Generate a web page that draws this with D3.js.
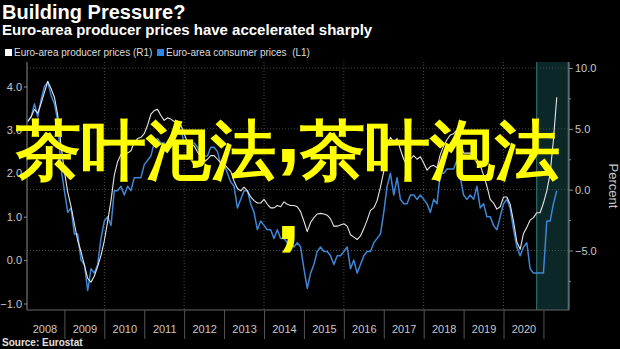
<!DOCTYPE html>
<html><head><meta charset="utf-8">
<script src="https://cdn.jsdelivr.net/npm/d3@7"></script>
<style>
html,body{margin:0;padding:0;background:#000;}
svg{display:block;}
text{font-family:"Liberation Sans",Arial,sans-serif;}
</style></head><body>
<svg id="chart" width="620" height="349"></svg>
<script>
// ---------- data ----------
const titleText = "Building Pressure?";
const subtitleText = "Euro-area producer prices have accelerated sharply";
const seriesNames = ["Euro-area producer prices (R1)", "Euro-area consumer prices  (L1)"];
const sourceText = "Source: Eurostat";
const axisTitleRight = "Percent";
const startYear = 2008;
const yearLabels = [2008, 2009, 2010, 2011, 2012, 2013, 2014, 2015, 2016, 2017, 2018, 2019, 2020];
const yearSeparators = [2009, 2010, 2011, 2012, 2013, 2014, 2015, 2016, 2017, 2018, 2019, 2020, 2021];
const gridYears = [2010, 2012, 2014, 2016, 2018, 2020];
const leftTicks = [-1, 0, 1, 2, 3, 4];
const rightTicks = [-5, 0, 5, 10];
const rightMinorTicks = [-7.5, -2.5, 2.5, 7.5];
const highlightRange = [2020.83, 2021.62];
const overlayMain = ["茶叶泡法", ",", "茶叶泡法"];
const overlayExtra = ",";

// Producer prices, % YoY, monthly Jan 2008 .. Apr 2021 (right axis)
const ppiValues = [
  5.6, 6.0, 6.6, 6.3, 7.1, 8.0, 8.9, 8.3, 7.6, 6.1, 3.6, 1.5,
  -0.2, -1.4, -2.8, -4.2, -5.1, -6.2, -7.3, -7.6, -7.1, -6.3, -5.4, -4.2,
  -2.6, -0.9, 1.2, 2.3, 2.9, 3.0, 3.0, 3.2, 3.9, 4.2, 4.3, 4.6,
  5.3, 6.2, 6.5, 6.6, 6.1, 5.7, 5.9, 5.8, 5.6, 5.5, 5.3, 4.6,
  3.9, 3.8, 3.6, 3.1, 2.7, 2.3, 2.5, 2.8, 2.8, 2.5, 2.2, 2.1,
  1.8, 1.5, 0.7, 0.1, -0.1, 0.2, -0.1, -0.6, -0.9, -1.1, -1.1, -0.8,
  -1.2, -1.5, -1.5, -1.3, -1.4, -1.0, -1.2, -1.3, -1.3, -1.4, -1.8, -2.6,
  -3.45, -2.7, -2.3, -2.0, -1.95, -2.0, -2.1, -2.4, -3.0, -3.0, -2.9, -2.8,
  -3.0, -3.7, -3.9, -4.1, -3.8, -3.2, -2.5, -1.7, -1.5, -0.9, 0.2, 1.5,
  3.5, 4.3, 3.9, 4.2, 3.3, 2.5, 2.0, 2.5, 2.8, 2.5, 2.7, 2.2,
  1.6, 1.9, 2.0, 1.8, 2.9, 3.6, 4.1, 4.5, 4.6, 4.9, 4.0, 3.0,
  3.0, 3.0, 2.9, 2.5, 2.0, 1.2, 0.3, -0.8, -1.1, -1.6, -1.4, -0.6,
  -0.6, -1.2, -2.6, -4.3, -4.9, -3.6, -3.1, -2.5, -2.3, -1.9, -1.9, -1.1,
  -0.1, 1.3, 4.1, 7.6
];
// Consumer prices, % YoY, monthly Jan 2008 .. Apr 2021 (left axis)
const hicpValues = [
  3.2, 3.3, 3.6, 3.3, 3.7, 4.0, 4.1, 3.8, 3.6, 3.2, 2.1, 1.6,
  1.1, 1.2, 0.6, 0.6, 0.0, -0.1, -0.7, -0.2, -0.3, -0.1, 0.5, 0.9,
  1.0, 0.8, 1.6, 1.6, 1.7, 1.5, 1.7, 1.6, 1.9, 1.9, 1.9, 2.2,
  2.3, 2.4, 2.7, 2.8, 2.7, 2.7, 2.6, 2.6, 3.0, 3.0, 3.0, 2.7,
  2.7, 2.7, 2.7, 2.6, 2.4, 2.4, 2.4, 2.6, 2.6, 2.5, 2.2, 2.2,
  2.0, 1.8, 1.7, 1.2, 1.4, 1.6, 1.6, 1.3, 1.1, 0.7, 0.9, 0.8,
  0.7, 0.7, 0.5, 0.7, 0.5, 0.5, 0.4, 0.4, 0.3, 0.4, 0.3, -0.2,
  -0.65, -0.3, -0.1, 0.2, 0.3, 0.2, 0.2, 0.1, -0.1, 0.1, 0.1, 0.2,
  0.3, -0.2, 0.0, -0.3, -0.1, 0.1, 0.2, 0.2, 0.4, 0.5, 0.6, 1.1,
  1.7, 2.0, 1.5, 1.9, 1.4, 1.3, 1.3, 1.5, 1.5, 1.4, 1.5, 1.4,
  1.3, 1.1, 1.4, 1.3, 2.0, 2.0, 2.1, 2.1, 2.1, 2.3, 1.9, 1.5,
  1.4, 1.5, 1.4, 1.7, 1.2, 1.3, 1.0, 1.0, 0.8, 0.7, 1.0, 1.3,
  1.4, 1.2, 0.7, 0.3, 0.1, 0.3, 0.4, -0.2, -0.3, -0.3, -0.3, -0.3,
  0.9, 0.9, 1.3, 1.6
];

// ---------- layout ----------
const W = 620, H = 349;
const plot = {left: 27, right: 569, top: 62, bottom: 310};
const colors = {white: "#e6e6e6", blue: "#3f86d6", legendBlue: "#2d87e6", grid: "#4a4a4a",
  axis: "#8a8a8a", tick: "#c8c8c8", hl: "#0b2727", hlEdge: "#2f6a67", yellow: "#ffff00"};

const svg = d3.select("#chart");
svg.append("rect").attr("width", W).attr("height", H).attr("fill", "#000");

const monthTime = i => startYear + Math.floor(i / 12) + ((i % 12) + 1) / 12;
const ppi = ppiValues.map((v, i) => ({t: monthTime(i), v}));
const hicp = hicpValues.map((v, i) => ({t: monthTime(i), v}));

const x = d3.scaleLinear().domain([2008.063, 2021.64]).range([plot.left, plot.right]);
const yL = d3.scaleLinear().domain([-1, 4]).range([303.5, 86.5]);
const yR = d3.scaleLinear().domain([-5, 10]).range([250.5, 68]);

// highlight band
svg.append("rect")
  .attr("x", x(highlightRange[0])).attr("y", plot.top)
  .attr("width", x(highlightRange[1]) - x(highlightRange[0]))
  .attr("height", plot.bottom - plot.top)
  .attr("fill", colors.hl);
highlightRange.forEach(t => svg.append("line")
  .attr("x1", x(t)).attr("x2", x(t)).attr("y1", plot.top).attr("y2", plot.bottom)
  .attr("stroke", colors.hlEdge).attr("stroke-width", 1.2));

// grid
const grid = svg.append("g").attr("stroke", colors.grid).attr("stroke-dasharray", "1,2");
grid.selectAll("line.h").data(rightTicks).join("line")
  .attr("x1", plot.left).attr("x2", plot.right)
  .attr("y1", d => yR(d)).attr("y2", d => yR(d));
grid.selectAll("line.v").data(gridYears).join("line")
  .attr("x1", d => x(d)).attr("x2", d => x(d))
  .attr("y1", plot.top).attr("y2", plot.bottom);

// lines
svg.append("path").datum(hicp)
  .attr("fill", "none").attr("stroke", colors.blue).attr("stroke-width", 1.5)
  .attr("stroke-linejoin", "round")
  .attr("d", d3.line().x(d => x(d.t)).y(d => yL(d.v)));
svg.append("path").datum(ppi)
  .attr("fill", "none").attr("stroke", colors.white).attr("stroke-width", 1.1)
  .attr("stroke-linejoin", "round")
  .attr("d", d3.line().x(d => x(d.t)).y(d => yR(d.v)));

// axes lines
svg.append("line").attr("x1", plot.left).attr("x2", plot.left).attr("y1", plot.top).attr("y2", plot.bottom)
  .attr("stroke", colors.axis);
svg.append("line").attr("x1", plot.right).attr("x2", plot.right).attr("y1", plot.top).attr("y2", plot.bottom)
  .attr("stroke", colors.axis);
svg.append("line").attr("x1", plot.left).attr("x2", plot.right).attr("y1", plot.bottom).attr("y2", plot.bottom)
  .attr("stroke", "#666");

function styleAxis(g) {
  g.select(".domain").remove();
  g.selectAll(".tick line").attr("stroke", colors.axis);
  g.selectAll(".tick text").attr("fill", colors.tick).attr("font-size", 11)
    .attr("font-family", "Liberation Sans, Arial, sans-serif");
}

svg.append("g").attr("transform", `translate(${plot.left},0)`)
  .call(d3.axisLeft(yL).tickValues(leftTicks).tickFormat(d3.format(".1f")).tickSize(3).tickPadding(2))
  .call(styleAxis);
svg.append("g").attr("transform", `translate(${plot.right},0)`)
  .call(d3.axisRight(yR).tickValues(rightTicks).tickFormat(d3.format(".1f")).tickSize(4).tickPadding(2))
  .call(styleAxis);
svg.append("g").attr("transform", `translate(${plot.right},0)`)
  .call(d3.axisRight(yR).tickValues(rightMinorTicks).tickFormat("").tickSize(2))
  .call(styleAxis);

// bottom year separators and labels
svg.append("g").attr("transform", `translate(0,${plot.bottom})`)
  .call(d3.axisBottom(x).tickValues(yearSeparators).tickFormat("").tickSize(29))
  .call(g => { g.select(".domain").remove(); g.selectAll(".tick line").attr("stroke", "#555"); });
svg.append("g").attr("transform", `translate(0,${plot.bottom})`)
  .call(d3.axisBottom(x).tickValues(yearLabels.map(y => y + 0.5)).tickFormat(d => String(Math.floor(d))).tickSize(0).tickPadding(15))
  .call(styleAxis);

// right axis title
svg.append("text").attr("transform", "translate(609,186) rotate(90)")
  .attr("text-anchor", "middle").attr("fill", colors.tick).attr("font-size", 13).text(axisTitleRight);

// titles
svg.append("text").attr("x", 2).attr("y", 19).attr("fill", "#fff").attr("font-size", 20)
  .attr("font-weight", "bold").text(titleText);
svg.append("text").attr("x", 2).attr("y", 35).attr("fill", "#fff").attr("font-size", 15)
  .attr("font-weight", "bold").text(subtitleText);

// legend
const legend = svg.append("g");
const legendItems = [{name: seriesNames[0], color: "#ffffff", x: 5}, {name: seriesNames[1], color: colors.legendBlue, x: 157}];
legendItems.forEach(it => {
  legend.append("rect").attr("x", it.x).attr("y", 49).attr("width", 7).attr("height", 7).attr("fill", it.color);
  legend.append("text").attr("x", it.x + 9).attr("y", 56).attr("fill", "#dcdcdc").attr("font-size", 10)
    .style("white-space", "pre").text(it.name);
});

// source
svg.append("text").attr("x", 2).attr("y", 346).attr("fill", "#e0e0e0").attr("font-size", 10)
  .attr("font-weight", "bold").text(sourceText);

// overlay text
const ov = svg.append("text").attr("x", 16).attr("y", 173).attr("fill", colors.yellow)
  .attr("font-family", "Noto Sans CJK SC").attr("font-weight", "bold").attr("font-size", 65);
ov.append("tspan").text(overlayMain[0]);
ov.append("tspan").attr("font-size", 88).attr("dy", -11).text(overlayMain[1]);
ov.append("tspan").attr("dy", 11).text(overlayMain[2]);
svg.append("text").attr("x", 276).attr("y", 239).attr("fill", colors.yellow)
  .attr("font-family", "Noto Sans CJK SC").attr("font-weight", "bold").attr("font-size", 88)
  .text(overlayExtra);
</script>
</body></html>
